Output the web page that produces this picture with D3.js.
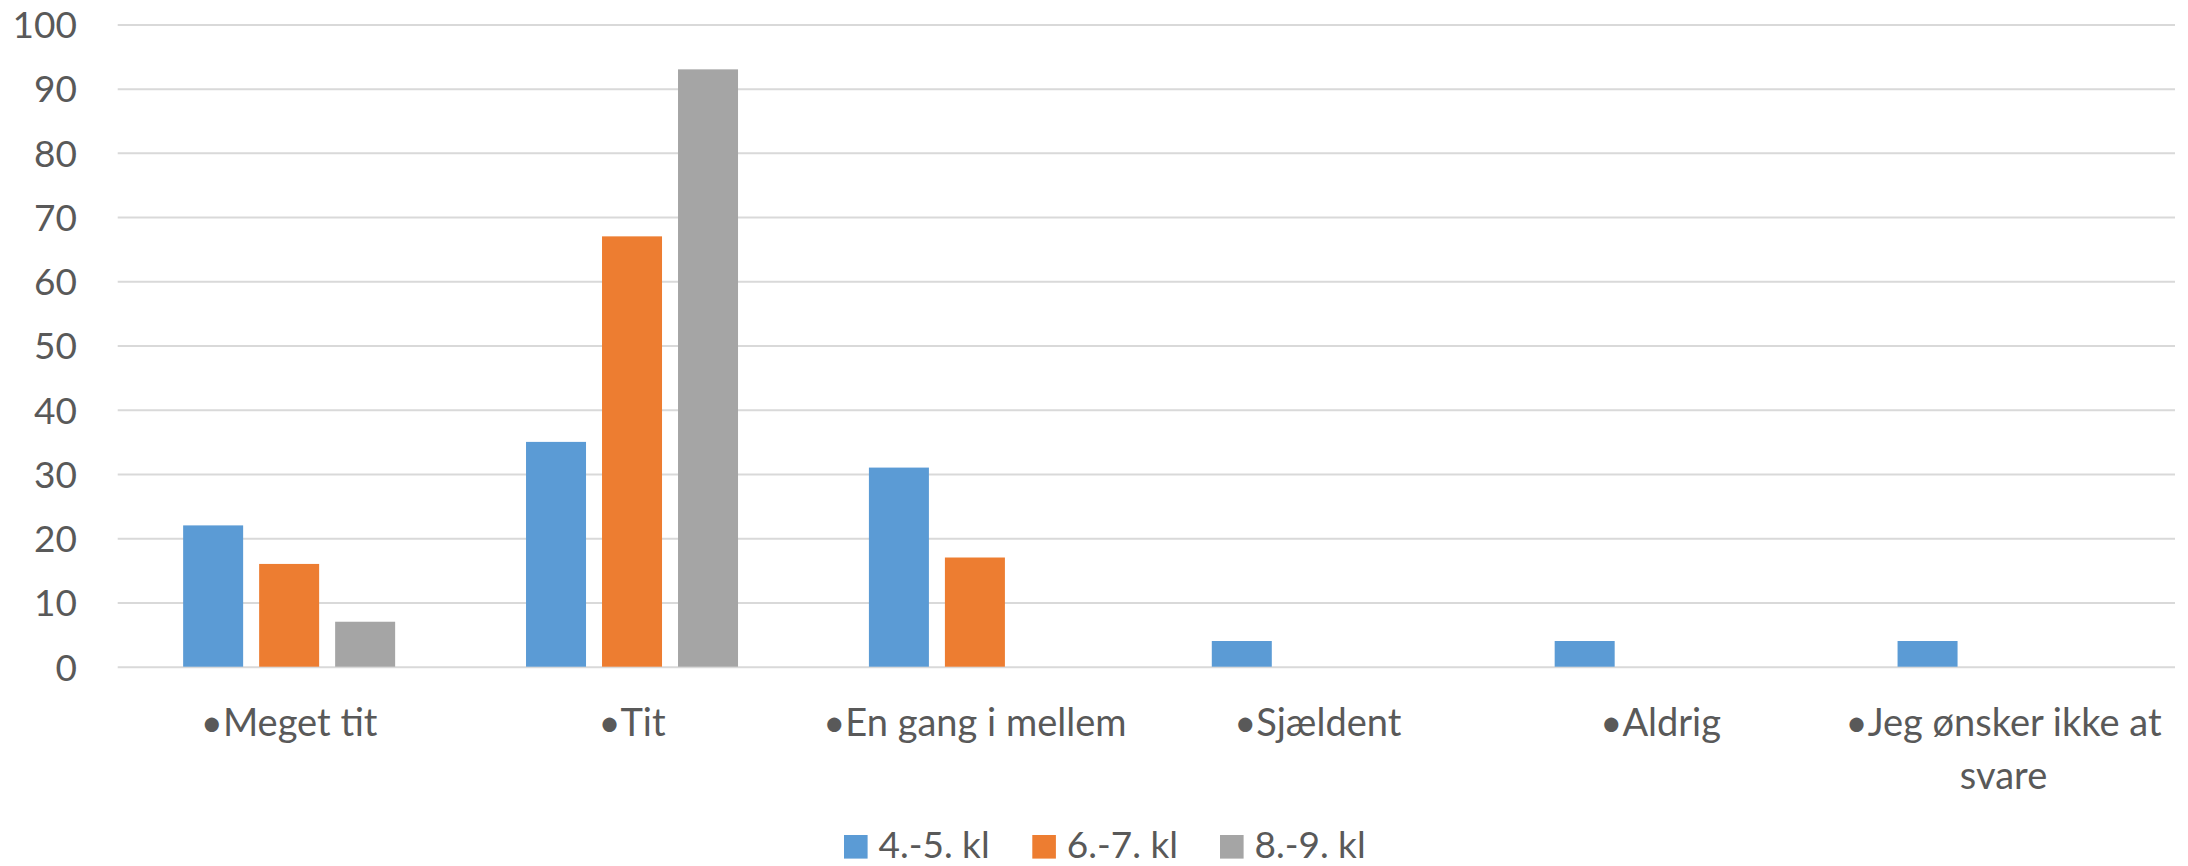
<!DOCTYPE html>
<html>
<head>
<meta charset="utf-8">
<script src="https://cdn.jsdelivr.net/npm/d3@7"></script>
<style>
  html, body { margin: 0; padding: 0; background: #fff; }
  svg { display: block; }
  text { font-family: Lato, "Open Sans", sans-serif; fill: #595959; }
</style>
</head>
<body>
<svg id="chart" width="2188" height="866"></svg>
<script>
// ---- data ----
const categories = ["•Meget tit", "•Tit", "•En gang i mellem", "•Sjældent", "•Aldrig", "•Jeg ønsker ikke at svare"];
const seriesNames = ["4.-5. kl", "6.-7. kl", "8.-9. kl"];
const values45 = [22, 35, 31, 4, 4, 4];
const values67 = [16, 67, 17, 0, 0, 0];
const values89 = [7, 93, 0, 0, 0, 0];
const yTicks = [0, 10, 20, 30, 40, 50, 60, 70, 80, 90, 100];
const colors = ["#5B9BD5", "#ED7D31", "#A5A5A5"];

const seriesValues = [values45, values67, values89];

// ---- layout ----
const W = 2188, H = 866;
const plot = { left: 117.7, right: 2175, top: 24.4, bottom: 666.7 };
const svg = d3.select("#chart");

const x0 = d3.scaleBand().domain(categories).range([plot.left, plot.right]).padding(0);
const groupW = 212;
const off = (x0.bandwidth() - groupW) / 2;
const x1 = d3.scaleBand().domain(seriesNames).range([off, off + groupW]).paddingInner(16 / 76).paddingOuter(0);
const y = d3.scaleLinear().domain([0, 100]).range([plot.bottom, plot.top]);

// gridlines
const gridAxis = d3.axisLeft(y).tickValues(yTicks).tickSize(-(plot.right - plot.left)).tickFormat("");
const grid = svg.append("g").attr("transform", `translate(${plot.left},0)`).call(gridAxis);
grid.select(".domain").remove();
grid.selectAll(".tick line").attr("stroke", "#D9D9D9").attr("stroke-width", 2);

// y labels
const yAxis = d3.axisLeft(y).tickValues(yTicks).tickSize(0).tickPadding(0);
const yg = svg.append("g").attr("transform", `translate(77,0)`).call(yAxis);
yg.select(".domain").remove();
yg.selectAll(".tick text")
  .attr("font-size", 37)
  .attr("font-family", "Lato, sans-serif")
  .attr("fill", "#595959")
  .attr("text-anchor", "end")
  .attr("dy", "0.36em");

// bars
const groups = svg.append("g").selectAll("g")
  .data(categories)
  .join("g")
  .attr("transform", d => `translate(${x0(d)},0)`);

groups.selectAll("rect")
  .data((d, i) => seriesNames.map((s, j) => ({ s, v: seriesValues[j][i], c: colors[j] })))
  .join("rect")
  .filter(d => d.v > 0)
  .attr("x", d => x1(d.s))
  .attr("width", x1.bandwidth())
  .attr("y", d => y(d.v))
  .attr("height", d => y(0) - y(d.v))
  .attr("fill", d => d.c);

// x axis labels
const xAxis = d3.axisBottom(x0).tickSize(0).tickPadding(0);
const xg = svg.append("g").attr("transform", `translate(0,${plot.bottom})`).call(xAxis);
xg.select(".domain").remove();
xg.selectAll(".tick text")
  .attr("font-size", 38)
  .attr("font-family", "Lato, sans-serif")
  .attr("fill", "#595959")
  .attr("y", 0)
  .attr("dy", 0)
  .each(function (d) {
    const t = d3.select(this);
    const words = d.split(" ");
    t.text(null);
    const maxW = x0.bandwidth() - 10;
    let lines = [];
    let line = [];
    let tsp = t.append("tspan").attr("x", 0);
    words.forEach(w => {
      line.push(w);
      tsp.text(line.join(" "));
      if (tsp.node().getComputedTextLength() > maxW && line.length > 1) {
        line.pop();
        lines.push(line.join(" "));
        line = [w];
        tsp.text(w);
      }
    });
    lines.push(line.join(" "));
    t.text(null);
    lines.forEach((l, k) => {
      t.append("tspan").attr("x", 0).attr("y", 69 + k * 53.5).text(l);
    });
  });

// legend
const legendX = [844, 1032.3, 1220];
const legend = svg.append("g").selectAll("g")
  .data(seriesNames)
  .join("g")
  .attr("transform", (d, i) => `translate(${legendX[i]},0)`);
legend.append("rect")
  .attr("x", 0).attr("y", 835).attr("width", 23.6).attr("height", 23.6)
  .attr("fill", (d, i) => colors[i]);
legend.append("text")
  .attr("x", 34.5).attr("y", 857.5)
  .attr("font-size", 37)
  .text(d => d);
</script>
</body>
</html>
